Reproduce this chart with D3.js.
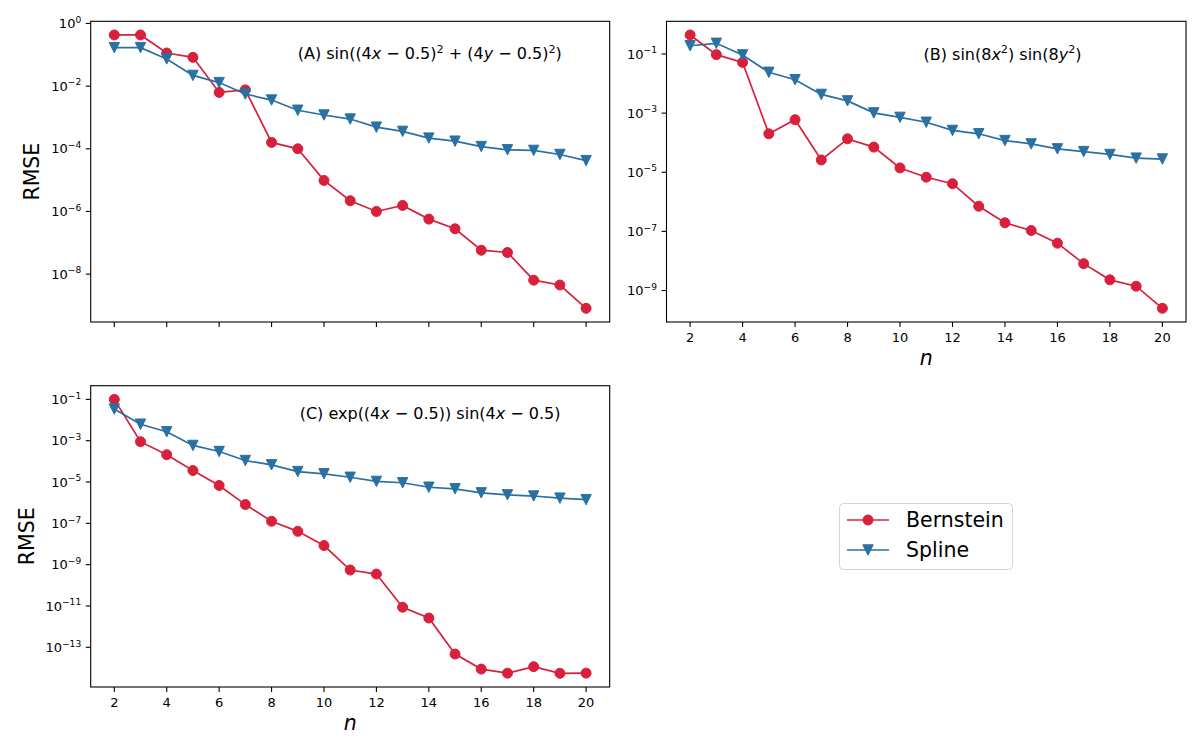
<!DOCTYPE html>
<html>
<head>
<meta charset="utf-8">
<script src="https://cdnjs.cloudflare.com/ajax/libs/d3/7.8.5/d3.min.js"></script>
<style>
    body { margin: 0; background: #ffffff; }
    svg { display: block; font-family: "DejaVu Sans", sans-serif; }
</style>
</head>
<body>
<div id="chart"></div>
<script>
    "use strict";

    // polynomial degree n, shared by every panel
    const nValues = [2, 3, 4, 5, 6, 7, 8, 9, 10, 11, 12, 13, 14, 15, 16, 17, 18, 19, 20];
    const xTicks = [2, 4, 6, 8, 10, 12, 14, 16, 18, 20];

    // RMSE, panel (A)
    const bernsteinA = [0.43, 0.43, 0.114, 0.083, 0.0063, 0.0076, 1.6e-4, 1.0e-4, 9.8e-6, 2.2e-6,
        1.0e-6, 1.56e-6, 5.7e-7, 2.8e-7, 5.8e-8, 4.9e-8, 6.4e-9, 4.5e-9, 8.1e-10];
    const splineA = [0.17, 0.17, 0.074, 0.022, 0.013, 0.0056, 0.0036, 0.0017, 0.0012, 8.9e-4,
        4.9e-4, 3.6e-4, 2.2e-4, 1.75e-4, 1.18e-4, 9.3e-5, 8.9e-5, 6.6e-5, 4.2e-5];

    // panel (B)
    const bernsteinB = [0.44, 0.095, 0.052, 2.0e-4, 6.0e-4, 2.6e-5, 1.35e-4, 7.1e-5, 1.4e-5, 6.8e-6,
        4.1e-6, 7.1e-7, 1.95e-7, 1.07e-7, 4.0e-8, 8.1e-9, 2.3e-9, 1.4e-9, 2.5e-10];
    const splineB = [0.19, 0.23, 0.093, 0.024, 0.0135, 0.0043, 0.0026, 0.00102, 7.2e-4, 4.9e-4,
        2.6e-4, 2.0e-4, 1.18e-4, 9.1e-5, 6.2e-5, 5.0e-5, 4.0e-5, 3.0e-5, 2.8e-5];

    // panel (C)
    const bernsteinC = [0.1, 9.0e-4, 2.1e-4, 3.6e-5, 6.8e-6, 8.1e-7, 1.26e-7, 4.1e-8, 8.4e-9, 5.5e-10,
        3.5e-10, 8.7e-12, 2.6e-12, 4.7e-14, 8.8e-15, 5.6e-15, 1.15e-14, 5.5e-15, 5.6e-15];
    const splineC = [0.034, 6.3e-3, 2.7e-3, 5.9e-4, 3.0e-4, 1.1e-4, 6.8e-5, 3.2e-5, 2.5e-5, 1.7e-5,
        1.07e-5, 9.2e-6, 5.6e-6, 4.7e-6, 3.0e-6, 2.4e-6, 2.1e-6, 1.66e-6, 1.4e-6];

    // decades that carry a tick label
    const yTicksA = [0, -2, -4, -6, -8];
    const yTicksB = [-1, -3, -5, -7, -9];
    const yTicksC = [-1, -3, -5, -7, -9, -11, -13];

    // panel titles, as [text, style] parts: r = roman, i = italic, s = superscript
    const titleA = [["(A) sin((4", "r"], ["x", "i"], [" \u2212 0.5)", "r"], ["2", "s"], [" + (4", "r"],
        ["y", "i"], [" \u2212 0.5)", "r"], ["2", "s"], [")", "r"]];
    const titleB = [["(B) sin(8", "r"], ["x", "i"], ["2", "s"], [") sin(8", "r"], ["y", "i"], ["2", "s"], [")", "r"]];
    const titleC = [["(C) exp((4", "r"], ["x", "i"], [" \u2212 0.5)) sin(4", "r"], ["x", "i"], [" \u2212 0.5)", "r"]];

    const seriesNames = ["Bernstein", "Spline"];

    const width = 1200;
    const height = 750;
    const red = "#d8203c";
    const blue = "#2a70a2";
    const tickFont = 13;
    const labelFont = 20.5;
    const titleFont = 16;

    const svg = d3.select("#chart").append("svg").attr("width", width).attr("height", height);

    /**
     * Writes matplotlib-like mathtext into a text element
     */
    let writeMath = (textSel, parts, fontSize) => {
        let raised = false;
        const lift = fontSize * 0.42;
        parts.forEach(([str, style]) => {
            const t = textSel.append("tspan").text(str);
            if (style === "s") {
                t.attr("font-size", fontSize * 0.7);
                if (!raised) t.attr("dy", -lift);
                raised = true;
            } else {
                if (raised) t.attr("dy", lift);
                raised = false;
                if (style === "i") t.attr("font-style", "italic");
            }
        });
    };

    // downward triangle marker centred on the point
    let triangle = (cx, cy, s) => `M${cx},${cy + s}L${cx - s},${cy - s}L${cx + s},${cy - s}Z`;

    let drawPanel = (cfg) => {
        const g = svg.append("g").attr("transform", `translate(${cfg.left}, ${cfg.top})`);
        const w = cfg.w;
        const h = cfg.h;

        const x = d3.scaleLinear().domain([1.1, 20.9]).range([0, w]);

        // log axis with 5% padding in decades, like matplotlib autoscaling
        const all = cfg.bern.concat(cfg.spline);
        const lo = Math.log10(d3.min(all));
        const hi = Math.log10(d3.max(all));
        const pad = (hi - lo) * 0.05;
        const y = d3.scaleLog().domain([Math.pow(10, lo - pad), Math.pow(10, hi + pad)]).range([h, 0]);

        // x ticks
        const xt = g.selectAll(".xtick").data(xTicks).join("g")
            .attr("transform", (d) => `translate(${x(d)}, ${h})`);
        xt.append("line").attr("y2", 4.9).attr("stroke", "#000").attr("stroke-width", 1.1);
        if (cfg.xLabels) {
            xt.append("text").attr("y", 20).attr("text-anchor", "middle")
                .attr("font-size", tickFont).attr("fill", "#000").text((d) => d);
        }

        // y ticks
        const yt = g.selectAll(".ytick").data(cfg.yTicks).join("g")
            .attr("transform", (d) => `translate(0, ${y(Math.pow(10, d))})`);
        yt.append("line").attr("x2", -4.9).attr("stroke", "#000").attr("stroke-width", 1.1);
        yt.each(function (d) {
            const label = d3.select(this).append("text")
                .attr("x", -9.5).attr("y", tickFont * 0.36)
                .attr("text-anchor", "end").attr("font-size", tickFont).attr("fill", "#000");
            writeMath(label, [["10", "r"], [d === 0 ? "0" : "\u2212" + Math.abs(d), "s"]], tickFont);
        });

        const pts = (vals) => nValues.map((n, i) => [x(n), y(vals[i])]);
        const line = d3.line();

        const clip = "clip-" + cfg.id;
        g.append("clipPath").attr("id", clip).append("rect").attr("width", w).attr("height", h);
        const plot = g.append("g").attr("clip-path", `url(#${clip})`);

        // Bernstein first, spline on top
        plot.append("path").attr("d", line(pts(cfg.bern))).attr("fill", "none")
            .attr("stroke", red).attr("stroke-width", 1.7);
        plot.selectAll(".bern").data(pts(cfg.bern)).join("circle")
            .attr("cx", (d) => d[0]).attr("cy", (d) => d[1]).attr("r", 5)
            .attr("fill", red).attr("stroke", red).attr("stroke-width", 1);

        plot.append("path").attr("d", line(pts(cfg.spline))).attr("fill", "none")
            .attr("stroke", blue).attr("stroke-width", 1.7);
        plot.selectAll(".spl").data(pts(cfg.spline)).join("path")
            .attr("d", (d) => triangle(d[0], d[1], 5.2))
            .attr("fill", blue).attr("stroke", blue).attr("stroke-width", 1);

        // frame
        g.append("rect").attr("width", w).attr("height", h).attr("fill", "none")
            .attr("stroke", "#000").attr("stroke-width", 1.1);

        // panel title
        const title = g.append("text").attr("x", cfg.titleX).attr("y", cfg.titleY)
            .attr("font-size", titleFont).attr("fill", "#000");
        writeMath(title, cfg.title, titleFont);

        if (cfg.yLabelX !== null) {
            g.append("text").attr("transform", `translate(${cfg.yLabelX}, ${h / 2}) rotate(-90)`)
                .attr("text-anchor", "middle").attr("font-size", labelFont).attr("fill", "#000").text("RMSE");
        }
        if (cfg.xLabels) {
            g.append("text").attr("x", w / 2).attr("y", h + 43).attr("text-anchor", "middle")
                .attr("font-size", labelFont).attr("font-style", "italic").attr("fill", "#000").text("n");
        }
    };

    drawPanel({ id: "a", left: 90.7, top: 21.3, w: 519, h: 300.7, bern: bernsteinA, spline: splineA,
        yTicks: yTicksA, title: titleA, titleX: 207, titleY: 38, xLabels: false, yLabelX: -51.2 });
    drawPanel({ id: "b", left: 666.5, top: 21.3, w: 519.5, h: 300.7, bern: bernsteinB, spline: splineB,
        yTicks: yTicksB, title: titleB, titleX: 257, titleY: 38.7, xLabels: true, yLabelX: null });
    drawPanel({ id: "c", left: 90.7, top: 385.7, w: 519, h: 301.3, bern: bernsteinC, spline: splineC,
        yTicks: yTicksC, title: titleC, titleX: 209, titleY: 33.6, xLabels: true, yLabelX: -56.7 });

    // legend
    const legend = svg.append("g").attr("transform", "translate(839.5, 503.5)");
    legend.append("rect").attr("width", 173).attr("height", 66).attr("rx", 4)
        .attr("fill", "#fff").attr("stroke", "#d4d4d4").attr("stroke-width", 1);
    const rows = legend.selectAll(".row").data(seriesNames).join("g")
        .attr("transform", (d, i) => `translate(0, ${16.5 + i * 30})`);
    rows.append("line").attr("x1", 7.5).attr("x2", 49.5)
        .attr("stroke", (d, i) => (i === 0 ? red : blue)).attr("stroke-width", 1.7);
    rows.each(function (d, i) {
        const r = d3.select(this);
        if (i === 0) {
            r.append("circle").attr("cx", 28.5).attr("r", 5).attr("fill", red).attr("stroke", red);
        } else {
            r.append("path").attr("d", triangle(28.5, 0, 5.2)).attr("fill", blue).attr("stroke", blue);
        }
    });
    rows.append("text").attr("x", 66.5).attr("y", 7.3).attr("font-size", labelFont).attr("fill", "#000").text((d) => d);
</script>
</body>
</html>
